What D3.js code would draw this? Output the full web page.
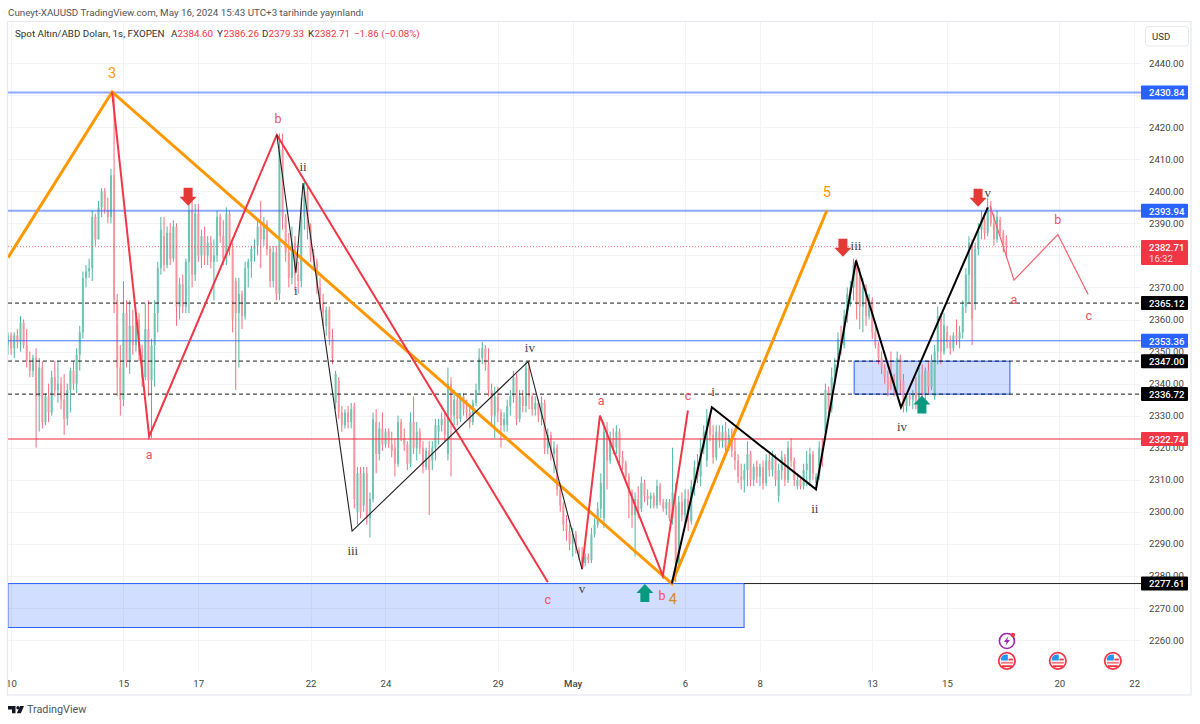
<!DOCTYPE html>
<html><head><meta charset="utf-8">
<script src="https://cdn.jsdelivr.net/npm/d3@7"></script>
<style>html,body{margin:0;padding:0;background:#fff}svg{display:block}text{font-family:Roboto,"Liberation Sans",sans-serif}</style>
</head><body><div id="chart"></div>
<script>
// 2-hour OHLC rows: open, high, low, close
const candles=[
[2352,2356,2349,2355],[2355,2356,2349,2351],[2351,2356,2348,2355],[2355,2357,2351,2353],[2353,2361,2350,2359],[2359,2360,2351,2352],[2352,2357,2345,2347],[2347,2350,2342,2344],[2344,2349,2342,2348],[2348,2351,2320,2336],
[2336,2348,2325,2345],[2345,2347,2326,2328],[2328,2337,2327,2336],[2336,2340,2328,2331],[2331,2344,2330,2342],[2342,2347,2336,2338],[2338,2347,2334,2340],[2340,2342,2332,2335],[2335,2343,2324,2329],[2329,2340,2327,2338],
[2338,2345,2331,2344],[2344,2347,2338,2340],[2340,2351,2337,2349],[2349,2358,2344,2356],[2356,2375,2354,2373],[2373,2377,2370,2375],[2375,2379,2373,2376],[2376,2394,2372,2392],[2392,2393,2383,2385],[2385,2397,2385,2395],
[2395,2401,2392,2400],[2400,2401,2393,2394],[2394,2398,2390,2392],[2392,2407,2390,2405],[2405,2431,2362,2366],[2366,2368,2336,2345],[2345,2352,2330,2335],[2335,2372,2333,2362],[2362,2366,2345,2347],[2347,2366,2343,2358],
[2358,2363,2349,2352],[2352,2362,2350,2360],[2360,2362,2347,2349],[2349,2352,2339,2342],[2342,2365,2341,2357],[2357,2366,2336,2341],[2341,2354,2323,2352],[2352,2366,2339,2362],[2362,2378,2356,2376],[2376,2392,2374,2388],
[2386,2392,2375,2377],[2377,2389,2376,2387],[2387,2390,2377,2379],[2379,2391,2378,2389],[2389,2390,2358,2364],[2364,2373,2360,2371],[2371,2374,2362,2364],[2364,2379,2362,2378],[2378,2397,2362,2394],[2394,2397,2370,2374],
[2374,2396,2372,2393],[2393,2396,2378,2380],[2380,2388,2376,2386],[2386,2389,2377,2380],[2380,2386,2377,2384],[2384,2386,2376,2378],[2378,2385,2366,2380],[2380,2394,2378,2392],[2392,2393,2384,2386],[2386,2391,2377,2379],
[2379,2395,2377,2393],[2393,2394,2380,2382],[2382,2384,2356,2360],[2372,2373,2338,2362],[2362,2373,2345,2368],[2368,2369,2357,2361],[2361,2378,2360,2376],[2376,2379,2370,2378],[2378,2383,2373,2382],[2382,2385,2378,2383],
[2383,2391,2380,2389],[2389,2397,2376,2385],[2385,2392,2383,2390],[2390,2391,2380,2382],[2382,2383,2370,2372],[2372,2383,2370,2381],[2381,2383,2366,2368],[2368,2418,2366,2413],[2413,2418,2388,2392],[2392,2393,2378,2381],
[2381,2387,2370,2373],[2373,2389,2371,2384],[2384,2386,2369,2374],[2374,2378,2368,2372],[2372,2398,2370,2392],[2392,2403,2388,2400],[2400,2402,2385,2388],[2388,2390,2378,2380],[2380,2382,2376,2378],[2378,2379,2368,2370],
[2370,2373,2363,2365],[2365,2368,2358,2362],[2358,2364,2355,2363],[2363,2364,2352,2354],[2354,2357,2346,2348],[2334,2344,2332,2343],[2341,2342,2329,2331],[2331,2333,2325,2327],[2327,2332,2326,2331],[2331,2333,2326,2328],
[2328,2334,2326,2332],[2333,2334,2301,2304],[2300,2314,2296,2312],[2312,2314,2298,2300],[2302,2314,2300,2312],[2312,2314,2296,2298],[2298,2306,2292,2304],[2304,2331,2303,2329],[2328,2332,2312,2318],[2318,2328,2316,2326],
[2326,2331,2319,2321],[2321,2326,2320,2325],[2325,2326,2320,2321],[2321,2325,2317,2319],[2320,2323,2311,2315],[2315,2330,2314,2328],[2328,2329,2322,2323],[2323,2326,2319,2321],[2321,2322,2313,2315],[2315,2331,2314,2328],
[2328,2336,2318,2320],[2320,2328,2316,2325],[2325,2326,2318,2320],[2320,2322,2312,2314],[2314,2320,2313,2319],[2319,2322,2299,2313],[2316,2322,2313,2320],[2320,2329,2316,2327],[2325,2329,2321,2327],[2327,2331,2325,2329],
[2329,2331,2322,2324],[2318,2345,2316,2340],[2340,2342,2311,2330],[2330,2338,2327,2335],[2335,2337,2327,2329],[2329,2337,2328,2336],[2336,2337,2330,2332],[2332,2335,2329,2331],[2331,2333,2326,2328],[2328,2335,2327,2334],
[2334,2340,2333,2338],[2338,2351,2337,2348],[2348,2353,2346,2351],[2351,2352,2344,2346],[2346,2351,2336,2338],[2338,2340,2327,2330],[2330,2339,2323,2336],[2336,2339,2328,2331],[2331,2332,2320,2327],[2327,2331,2325,2329],
[2327,2335,2325,2333],[2333,2338,2330,2336],[2336,2344,2334,2342],[2342,2343,2327,2329],[2329,2338,2328,2336],[2336,2338,2331,2333],[2333,2347,2331,2345],[2345,2347,2332,2336],[2336,2337,2330,2332],[2332,2336,2330,2334],
[2334,2335,2328,2330],[2330,2336,2327,2334],[2334,2335,2318,2320],[2320,2326,2318,2324],[2324,2325,2316,2318],[2318,2322,2312,2320],[2320,2321,2305,2307],[2307,2309,2300,2302],[2302,2303,2294,2296],[2296,2299,2291,2294],
[2294,2296,2288,2290],[2290,2295,2286,2293],[2293,2294,2287,2288],[2288,2289,2285,2286],[2286,2289,2282,2284],[2284,2287,2283,2286],[2286,2287,2284,2285],[2285,2295,2284,2293],[2293,2298,2292,2296],[2296,2303,2295,2301],
[2301,2312,2298,2309],[2298,2328,2295,2325],[2325,2328,2307,2316],[2316,2325,2315,2323],[2323,2326,2318,2320],[2320,2327,2318,2325],[2325,2326,2315,2317],[2317,2319,2313,2315],[2315,2316,2309,2311],[2311,2312,2298,2306],
[2306,2307,2295,2299],[2299,2306,2286,2304],[2304,2308,2298,2301],[2301,2311,2300,2309],[2309,2310,2303,2305],[2305,2307,2302,2304],[2304,2306,2301,2305],[2305,2306,2301,2302],[2302,2310,2301,2308],[2308,2309,2302,2303],
[2303,2304,2300,2301],[2301,2304,2299,2303],[2303,2304,2297,2298],[2298,2320,2296,2306],[2302,2309,2278,2284],[2284,2305,2283,2303],[2303,2306,2297,2299],[2299,2307,2296,2304],[2304,2307,2294,2297],[2297,2310,2296,2308],
[2308,2316,2305,2314],[2314,2318,2309,2311],[2311,2323,2308,2320],[2320,2327,2318,2325],[2316,2332,2314,2329],[2329,2330,2322,2324],[2324,2327,2315,2317],[2317,2327,2316,2325],[2325,2327,2320,2322],[2322,2327,2320,2325],
[2325,2328,2318,2320],[2320,2326,2319,2324],[2324,2326,2317,2319],[2319,2323,2313,2316],[2316,2318,2309,2311],[2311,2315,2307,2310],[2310,2315,2306,2313],[2313,2322,2308,2318],[2318,2319,2308,2310],[2310,2315,2308,2314],
[2314,2316,2309,2311],[2311,2315,2308,2314],[2314,2316,2307,2309],[2309,2318,2308,2316],[2316,2318,2311,2313],[2313,2319,2311,2317],[2317,2318,2308,2310],[2305,2315,2303,2313],[2313,2319,2310,2317],[2317,2318,2308,2310],
[2310,2322,2309,2320],[2320,2323,2314,2316],[2316,2317,2308,2310],[2308,2312,2307,2310],[2310,2311,2307,2308],[2308,2315,2307,2313],[2313,2319,2308,2315],[2310,2320,2308,2318],[2318,2319,2310,2312],[2309,2312,2307,2311],
[2311,2322,2310,2320],[2320,2323,2314,2316],[2325,2340,2323,2338],[2338,2339,2329,2332],[2332,2345,2331,2342],[2342,2348,2340,2346],[2346,2356,2345,2354],[2354,2358,2349,2352],[2352,2363,2351,2361],[2361,2370,2359,2368],
[2368,2372,2364,2370],[2370,2379,2366,2377],[2377,2379,2360,2365],[2373,2376,2357,2364],[2364,2373,2356,2370],[2370,2371,2358,2361],[2361,2368,2360,2366],[2366,2367,2354,2356],[2356,2358,2351,2352],[2352,2353,2346,2348],
[2348,2350,2343,2345],[2345,2346,2340,2342],[2342,2344,2336,2338],[2342,2350,2338,2339],[2339,2343,2336,2338],[2338,2350,2337,2348],[2348,2349,2337,2341],[2341,2343,2331,2333],[2333,2337,2331,2336],[2336,2337,2333,2335],
[2335,2338,2332,2337],[2337,2342,2332,2335],[2335,2345,2334,2343],[2343,2346,2335,2337],[2337,2345,2335,2344],[2344,2347,2337,2339],[2339,2349,2338,2347],[2336,2352,2335,2350],[2350,2364,2346,2361],[2361,2362,2346,2350],
[2350,2362,2349,2358],[2356,2358,2351,2353],[2353,2355,2349,2351],[2351,2356,2350,2355],[2355,2360,2352,2354],[2354,2358,2351,2356],[2356,2366,2354,2364],[2364,2376,2362,2374],[2374,2386,2365,2384],[2384,2385,2352,2360],
[2365,2384,2363,2382],[2382,2390,2380,2388],[2388,2394,2385,2391],[2391,2393,2385,2387],[2387,2398,2386,2395],[2395,2397,2389,2390],[2390,2393,2383,2385],[2385,2394,2384,2392],[2391,2392,2386,2387],[2387,2388,2381,2383],
[2384.60,2386.26,2379.33,2382.71]
];
const priceTicks=[2260,2270,2280,2290,2300,2310,2320,2330,2340,2350,2360,2370,2380,2390,2400,2410,2420,2430,2440];
const hiddenPriceLabels=[2380,2430];
const timeTickDays=[0,3,5,8,10,13,15,18,20,23,25,28,30];
const timeTickLabels=["10","15","17","22","24","29","May","6","8","13","15","20","22"];
// day index (trading days since Apr 10), price
const orangeWave=[[-0.08,2379.3],[2.70,2431],[17.65,2277.6],[21.79,2394]];
const redWaveA=[[2.70,2431],[3.69,2323.5],[7.10,2417.6],[14.34,2278]];
const redWaveB=[[15.25,2282.1],[15.73,2330],[17.41,2280],[18.08,2331.6]];
const blackWaveThin=[[7.10,2417.6],[7.61,2374.6],[7.80,2402.6],[9.11,2294],[13.81,2346.9],[15.25,2282.1]];
const blackWaveThick=[[17.65,2277.6],[18.72,2332.6],[21.50,2307],[22.57,2378.4],[23.77,2332.6],[26.09,2395]];
const projection=[[26.15,2395.5],[26.79,2372.3],[27.96,2386.5],[28.77,2367.8]];
const levels=[
 {p:2430.84,c:"#2962ff",o:.55,w:2,bg:"#2962ff"},
 {p:2393.94,c:"#2962ff",o:.55,w:2,bg:"#2962ff"},
 {p:2365.12,c:"#000",o:.9,w:1,dash:"4 3",bg:"#000"},
 {p:2353.36,c:"#2962ff",o:.85,w:1,bg:"#2962ff"},
 {p:2347.00,c:"#000",o:.5,w:1.6,dash:"4 3",bg:"#000"},
 {p:2336.72,c:"#000",o:.9,w:1,dash:"4 3",bg:"#000"},
 {p:2322.74,c:"#f23645",o:.55,w:2,bg:"#f23645"}
];
const supportLine={p:2277.61,from:19.58};
const lastPrice=2382.71, countdown="16:32";
const zones=[[-0.08,19.58,2277.61,2263.9],[22.52,26.68,2347,2336.72]];
const redLabels=[["b",7.13,2422.6],["a",3.69,2317.9],["c",14.34,2272.5],["a",15.76,2334.8],["c",18.08,2336.3],["b",17.39,2274],["a",26.79,2366.2],["b",27.96,2391.1],["c",28.79,2361.2]];
const blackLabels=[["i",7.61,2369],["ii",7.80,2407.6],["iii",9.13,2288],["iv",13.86,2351.3],["v",15.25,2276.2],["i",18.75,2337.6],["ii",21.47,2301.1],["iii",22.57,2383],["iv",23.80,2326.6],["v",26.09,2399.5]];
const orangeLabels=[["3",2.70,2436.6,"#ff9800"],["5",21.79,2399.5,"#ff9800"],["4",17.68,2272.5,"#d68a1e"]];
const downArrows=[[4.73,2398.3],[22.22,2382.4],[25.83,2398]];
const upArrows=[[16.93,2274.7],[24.33,2333.5]];
const flagDays=[26.6,27.96,29.43], flagPrice=2253.5, eventDay=26.6, eventPrice=2259.7;
const headerTitle="Cuneyt-XAUUSD TradingView.com, May 16, 2024 15:43 UTC+3 tarihinde yayınlandı";
const symbolTitle="Spot Altın/ABD Doları, 1s, FXOPEN";
const ohlcLegend=[["A","2384.60",171],["Y","2386.26",217],["D","2379.33",262],["K","2382.71",308]];
const changeText="−1.86 (−0.08%)";

const W=1200,H=724,L=8,R=1141,T=22,B=672;
const x=d3.scaleLinear().domain([0,30]).range([11,1134.2]);
const y=d3.scaleLinear().domain([2260,2440]).range([640,63.1]);
const barDay=i=>i/12-0.08;
const svg=d3.select("#chart").append("svg").attr("width",W).attr("height",H).attr("viewBox",`0 0 ${W} ${H}`);
svg.append("rect").attr("width",W).attr("height",H).attr("fill","#fff");
const defs=svg.append("defs");
defs.append("clipPath").attr("id","plot").append("rect").attr("x",L).attr("y",T).attr("width",R-L).attr("height",B-T);
defs.append("clipPath").attr("id","frame").append("rect").attr("x",L).attr("y",T).attr("width",1191-L).attr("height",695-T);

// gridlines
const grid=svg.append("g").attr("stroke","#f1f3f6").attr("stroke-width",1).attr("clip-path","url(#plot)");
grid.selectAll(".h").data(priceTicks).join("line").attr("x1",L).attr("x2",R).attr("y1",d=>Math.round(y(d))+.5).attr("y2",d=>Math.round(y(d))+.5);
grid.selectAll(".v").data(timeTickDays).join("line").attr("x1",d=>Math.round(x(d))+.5).attr("x2",d=>Math.round(x(d))+.5).attr("y1",T).attr("y2",B);

const plot=svg.append("g").attr("clip-path","url(#plot)");
// zones
plot.selectAll(".zone").data(zones).join("rect").attr("x",d=>x(d[0])).attr("width",d=>x(d[1])-x(d[0])).attr("y",d=>y(d[2])).attr("height",d=>y(d[3])-y(d[2]))
 .attr("fill","rgba(41,98,255,.21)").attr("stroke","#2962ff").attr("stroke-width",1);
// candles
const up="#089981",dn="#f23645";
const bars=plot.append("g").selectAll("g").data(candles).join("g");
bars.append("line").attr("x1",(d,i)=>x(barDay(i))).attr("x2",(d,i)=>x(barDay(i))).attr("y1",d=>y(d[1])).attr("y2",d=>y(d[2]))
 .attr("stroke",d=>d[3]>=d[0]?up:dn).attr("stroke-width",.9).attr("stroke-opacity",.8);
bars.append("rect").attr("x",(d,i)=>x(barDay(i))-1).attr("width",2).attr("y",d=>y(Math.max(d[0],d[3]))).attr("height",d=>Math.max(1,Math.abs(y(d[0])-y(d[3]))))
 .attr("fill",d=>d[3]>=d[0]?"#6fc4b3":"#f8969f");
// levels
plot.selectAll(".lvl").data(levels).join("line").attr("x1",L).attr("x2",R).attr("y1",d=>y(d.p)).attr("y2",d=>y(d.p))
 .attr("stroke",d=>d.c).attr("stroke-opacity",d=>d.o).attr("stroke-width",d=>d.w).attr("stroke-dasharray",d=>d.dash||null);
plot.append("line").attr("x1",x(supportLine.from)).attr("x2",R).attr("y1",y(supportLine.p)).attr("y2",y(supportLine.p)).attr("stroke","#222").attr("stroke-width",1);
plot.append("line").attr("x1",L).attr("x2",R).attr("y1",y(lastPrice)).attr("y2",y(lastPrice)).attr("stroke",dn).attr("stroke-width",1).attr("stroke-opacity",.7).attr("stroke-dasharray","1 2");
// waves
const line=d3.line().x(d=>x(d[0])).y(d=>y(d[1]));
const wave=(data,color,w)=>plot.append("path").attr("d",line(data)).attr("fill","none").attr("stroke",color).attr("stroke-width",w).attr("stroke-linejoin","miter");
wave(orangeWave,"#ff9800",3);
wave(redWaveA,"#f23645",2);
wave(redWaveB,"#f23645",2);
wave(blackWaveThin,"#222",1.1);
wave(blackWaveThick,"#000",2);
wave(projection,"#f7616d",1.2);
// arrows
plot.selectAll(".dn").data(downArrows).join("path").attr("fill","#e53935").attr("transform",d=>`translate(${x(d[0])},${y(d[1])})`).attr("d","M-4.5,-9H4.5V0H8.5L0,9L-8.5,0H-4.5Z");
plot.selectAll(".up").data(upArrows).join("path").attr("fill","#089981").attr("transform",d=>`translate(${x(d[0])},${y(d[1])})`).attr("d","M-4.5,9H4.5V0H8.5L0,-9L-8.5,0H-4.5Z");
// wave labels
const labels=(data,fill,size)=>plot.selectAll(null).data(data).join("text").attr("x",d=>x(d[1])).attr("y",d=>y(d[2])).attr("text-anchor","middle").attr("dominant-baseline","central")
 .attr("font-size",size).attr("fill",d=>d[3]||fill).text(d=>d[0]);
labels(redLabels,"#f2525f",12.5);
labels(blackLabels,"#444",13).style("font-family","'Liberation Serif',serif");
labels(orangeLabels,"#ff9800",14.5);

// axes
const yAxis=d3.axisRight(y).tickValues(priceTicks).tickSize(0).tickPadding(0).tickFormat(d=>hiddenPriceLabels.includes(d)?"":d3.format(".2f")(d));
const ga=svg.append("g").attr("transform","translate(1149,0)").call(yAxis);
ga.select(".domain").remove();
ga.selectAll("text").style("font-family","Roboto").attr("font-size",9.6).attr("fill","#444");
const xAxis=d3.axisBottom(x).tickValues(timeTickDays).tickSize(0).tickPadding(0).tickFormat((d,i)=>timeTickLabels[i]);
const gx=svg.append("g").attr("clip-path","url(#frame)").append("g").attr("transform","translate(0,680)").call(xAxis);
gx.select(".domain").remove();
gx.selectAll("text").style("font-family","Roboto").attr("font-size",9.6).attr("fill","#444").attr("font-weight",d=>d===15?500:400);

// price badges
const allBadges=levels.concat([{p:supportLine.p,bg:"#000"}]);
const bg=svg.append("g");
allBadges.forEach(d=>{
 const yy=y(d.p);
 bg.append("rect").attr("x",1141).attr("y",yy-7).attr("width",47).attr("height",14).attr("rx",1).attr("fill",d.bg);
 bg.append("text").attr("x",1149).attr("y",yy+.3).attr("dominant-baseline","central").attr("font-size",9.6).attr("font-weight",500).attr("fill","#fff").text(d3.format(".2f")(d.p));
});
bg.append("rect").attr("x",1141).attr("y",240).attr("width",47).attr("height",25).attr("rx",1).attr("fill","#f23645");
bg.append("text").attr("x",1149).attr("y",247.5).attr("dominant-baseline","central").attr("font-size",9.6).attr("font-weight",500).attr("fill","#fff").text(lastPrice.toFixed(2));
bg.append("text").attr("x",1149).attr("y",258).attr("dominant-baseline","central").attr("font-size",9.6).attr("fill","#ffd9dc").text(countdown);

// event icons
const flags=svg.append("g").selectAll("g").data(flagDays).join("g").attr("transform",d=>`translate(${x(d)},${y(flagPrice)})`);
flags.append("circle").attr("r",8.2).attr("fill","#fff").attr("stroke","#f23645").attr("stroke-width",1.8);
flags.append("rect").attr("x",-6).attr("y",1).attr("width",12).attr("height",1.8).attr("fill","#f9727c");
flags.append("rect").attr("x",-5).attr("y",4.4).attr("width",10).attr("height",1.8).attr("fill","#f23645");
flags.append("rect").attr("x",1.5).attr("y",-2.2).attr("width",4.5).attr("height",1.8).attr("fill","#f23645");
flags.append("path").attr("d","M-6,-0.3V-2.5A6,6 0 0 1 1,-6V-0.3Z").attr("fill","#2196f3");
const ev=svg.append("g").attr("transform",`translate(${x(eventDay)},${y(eventPrice)})`);
ev.append("circle").attr("r",7.5).attr("fill","#fff").attr("stroke","#9c27b0").attr("stroke-width",1.6);
ev.append("path").attr("d","M1.5,-5L-3,1H-.3L-1.5,5L3,-1H.3Z").attr("fill","#9c27b0");
ev.append("circle").attr("cx",6).attr("cy",-6).attr("r",2.2).attr("fill","#f23645");

// frame and header
svg.append("rect").attr("x",7.5).attr("y",21.5).attr("width",1183.5).attr("height",673.5).attr("fill","none").attr("stroke","#e6e8f0").attr("stroke-width",1.2);
svg.append("rect").attr("x",1145.5).attr("y",26.5).attr("width",43).attr("height",19.5).attr("rx",3).attr("fill","#fff").attr("stroke","#e6e8f0");
svg.append("text").attr("x",1152).attr("y",36.5).attr("dominant-baseline","central").attr("font-size",9.6).attr("fill","#333").text("USD");
svg.append("text").attr("x",8).attr("y",12).attr("dominant-baseline","central").attr("font-size",9.8).attr("fill","#555").text(headerTitle);
svg.append("text").attr("x",15).attr("y",33.5).attr("dominant-baseline","central").attr("font-size",9.8).attr("fill","#333").text(symbolTitle);
const hdr=svg.append("g").attr("font-size",9.8);
ohlcLegend.forEach(r=>{
 hdr.append("text").attr("x",r[2]).attr("y",33.5).attr("dominant-baseline","central").attr("fill","#333").text(r[0]);
 hdr.append("text").attr("x",r[2]+6.5).attr("y",33.5).attr("dominant-baseline","central").attr("fill","#f23645").text(r[1]);
});
hdr.append("text").attr("x",354).attr("y",33.5).attr("dominant-baseline","central").attr("fill","#f23645").text(changeText);

// footer logo
svg.append("path").attr("fill","#131722").attr("d","M8,706H15.5V713.3H12V709.5H8ZM24,706L20.8,713.3H16.8L20.2,706Z");
svg.append("circle").attr("cx",18).attr("cy",707.7).attr("r",1.7).attr("fill","#131722");
svg.append("text").attr("x",27).attr("y",709.5).attr("dominant-baseline","central").attr("font-size",10.8).attr("fill","#50535e").text("TradingView");
</script></body></html>
